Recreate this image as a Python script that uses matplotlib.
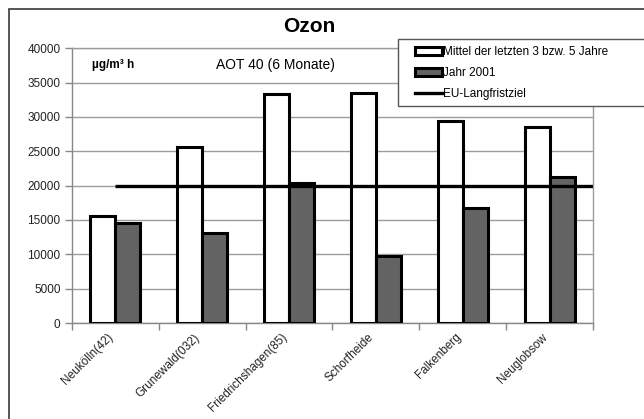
import matplotlib
matplotlib.use("Agg")
import matplotlib.pyplot as plt
import matplotlib.transforms as mtransforms
from matplotlib.patches import Rectangle, Patch
from matplotlib.lines import Line2D
import numpy as np

plt.rcParams['font.family'] = ['Liberation Sans', 'DejaVu Sans']

stations = ["Neukölln(42)", "Grunewald(032)", "Friedrichshagen(85)",
            "Schorfheide", "Falkenberg", "Neuglobsow"]
mittel = [15600, 25600, 33400, 33500, 29400, 28600]
jahr_2001 = [14500, 13100, 20400, 9800, 16800, 21300]
eu_ziel = 20000
y_ticks = [0, 5000, 10000, 15000, 20000, 25000, 30000, 35000, 40000]

W, H = 644, 419
fig = plt.figure(figsize=(W / 100, H / 100), dpi=100)

# outer chart frame (runs off the right and bottom edge)
fig.patches.append(Rectangle((9 / W, -0.1), 1.2, 1 - 9 / H + 0.1,
                             transform=fig.transFigure, fill=False,
                             edgecolor="#3a3a3a", linewidth=1.2))

ax = fig.add_axes([71.7 / W, 1 - 323 / H, (593.3 - 71.7) / W, (323 - 48.3) / H])
x = np.arange(len(stations))
bw = 0.29
ax.bar(x - bw / 2, mittel, bw, color="white", edgecolor="black",
       linewidth=2.2, zorder=3)
ax.bar(x + bw / 2, jahr_2001, bw, color="#636363", edgecolor="black",
       linewidth=2.2, zorder=3)
ax.plot([x[0], x[-1] + 0.5], [eu_ziel, eu_ziel], color="black",
        linewidth=2.4, zorder=4, solid_capstyle="butt")

ax.set_xlim(-0.5, len(stations) - 0.5)
ax.set_ylim(0, 40000)
ax.set_yticks(y_ticks)
ax.set_yticklabels([str(v) for v in y_ticks], fontsize=8.5, color="#222222")
ax.yaxis.grid(True, color="#a09a9a", linewidth=1.0, zorder=0)
ax.set_axisbelow(True)
ax.tick_params(axis="y", length=5, width=1, color="#888888", pad=3)

ax.set_xticks(x)
ax.set_xticklabels(stations, rotation=45, ha="right", va="top",
                   rotation_mode="anchor", fontsize=8.5, color="#222222")
ax.set_xticks(np.arange(-0.5, len(stations)), minor=True)
ax.tick_params(axis="x", which="major", length=0, pad=6)
ax.tick_params(axis="x", which="minor", length=5, width=1, color="#888888")
shift = mtransforms.ScaledTranslation(-8 / 100, 0, fig.dpi_scale_trans)
for lbl in ax.get_xticklabels():
    lbl.set_transform(lbl.get_transform() + shift)

for s in ax.spines.values():
    s.set_color("#a09a9a")
    s.set_linewidth(1.0)
ax.spines["left"].set_color("#888888")
ax.spines["bottom"].set_color("#888888")

fig.text(309 / W, 1 - 27 / H, "Ozon", ha="center", va="center",
         fontsize=15, fontweight="bold")
fig.text(92 / W, 1 - 65 / H, "µg/m³ h", ha="left", va="center",
         fontsize=8.5, fontweight="bold")
fig.text(275 / W, 1 - 65 / H, "AOT 40 (6 Monate)", ha="center",
         va="center", fontsize=10)

# legend box (runs off the right edge)
fig.patches.append(Rectangle((398 / W, 1 - 106 / H), 1.0, (106 - 39) / H,
                             transform=fig.transFigure, facecolor="white",
                             edgecolor="#555555", linewidth=1.0, zorder=5))
handles = [
    Patch(facecolor="white", edgecolor="black", linewidth=2.2),
    Patch(facecolor="#636363", edgecolor="black", linewidth=2.2),
    Line2D([0], [0], color="black", linewidth=2.4),
]
labels = ["Mittel der letzten 3 bzw. 5 Jahre", "Jahr 2001", "EU-Langfristziel"]
leg = fig.legend(handles, labels, loc="upper left",
                 bbox_to_anchor=(415 / W, 1 - 46 / H),
                 fontsize=8.5, frameon=False, borderpad=0,
                 handlelength=2.3, handleheight=0.7, handletextpad=0.1,
                 labelspacing=0.75, borderaxespad=0)
leg.set_zorder(6)

fig.savefig("out.png", dpi=100)
